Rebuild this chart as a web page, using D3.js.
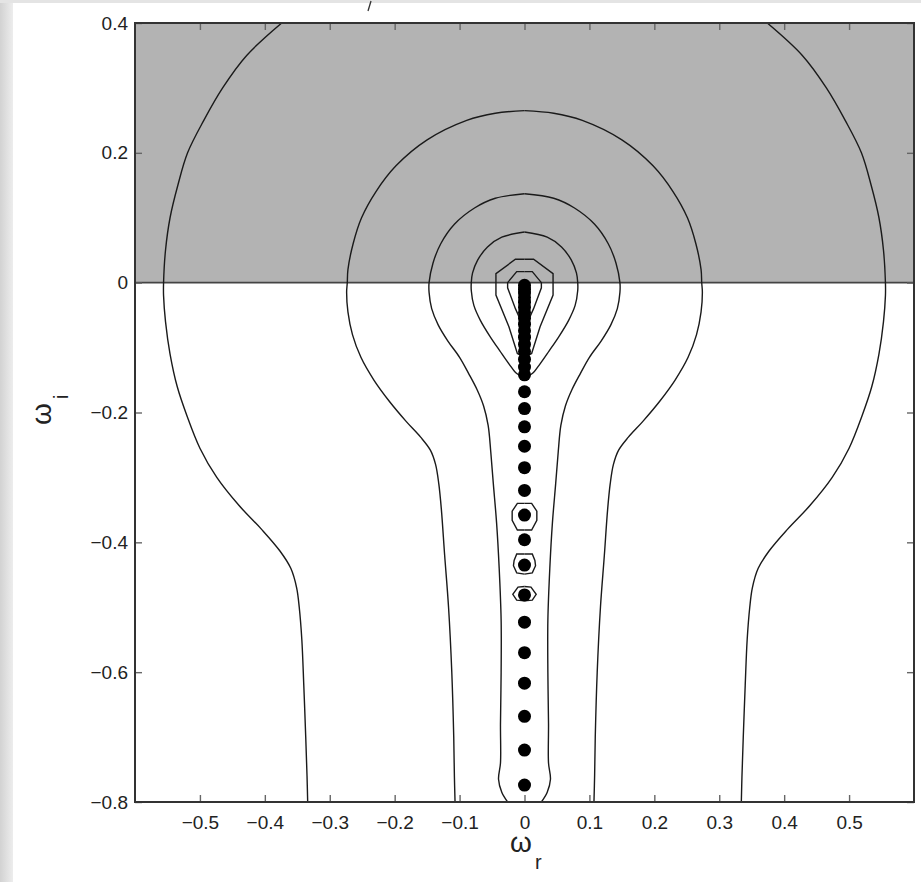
<!DOCTYPE html>
<html>
<head>
<meta charset="utf-8">
<script src="https://cdn.jsdelivr.net/npm/d3@7"></script>
<style>
  body { margin: 0; background: #fff; }
  svg { display: block; }
  text { font-family: "Liberation Sans", Arial, Helvetica, sans-serif; fill: #222; }
</style>
</head>
<body>
<div id="chart"></div>
<script>
// tick values
var xTicks = [-0.5, -0.4, -0.3, -0.2, -0.1, 0, 0.1, 0.2, 0.3, 0.4, 0.5]
var yTicks = [-0.8, -0.6, -0.4, -0.2, 0, 0.2, 0.4]

// contour lines, right half only (x >= 0), the left half is drawn mirrored
var contourA = [[0.374,0.4],[0.428,0.35],[0.465,0.3],[0.494,0.25],[0.519,0.2],[0.534,0.15],[0.546,0.1],
  [0.553,0.05],[0.556,0.0],[0.556,-0.02],[0.553,-0.06],[0.546,-0.11],[0.535,-0.16],[0.52,-0.205],
  [0.5,-0.255],[0.474,-0.3],[0.44,-0.343],[0.405,-0.38],[0.377,-0.413],[0.36,-0.44],[0.351,-0.47],
  [0.347,-0.5],[0.343,-0.55],[0.34,-0.62],[0.337,-0.7],[0.335,-0.76],[0.334,-0.8]]
var contourB = [[0,0.265],[0.045,0.261],[0.089,0.25],[0.15,0.22],[0.198,0.18],[0.229,0.14],[0.251,0.1],
  [0.264,0.06],[0.272,0.02],[0.273,0.0],[0.274,-0.015],[0.272,-0.045],[0.265,-0.08],[0.252,-0.115],
  [0.232,-0.15],[0.208,-0.183],[0.182,-0.214],[0.16,-0.238],[0.145,-0.258],[0.137,-0.28],[0.132,-0.31],
  [0.128,-0.35],[0.123,-0.42],[0.117,-0.5],[0.112,-0.6],[0.109,-0.7],[0.108,-0.76],[0.107,-0.8]]
var contourC = [[0,0.137],[0.045,0.13],[0.077,0.115],[0.108,0.09],[0.129,0.06],[0.141,0.03],[0.147,0.0],
  [0.147,-0.015],[0.143,-0.04],[0.133,-0.065],[0.118,-0.09],[0.1,-0.115],[0.086,-0.14],[0.073,-0.165],
  [0.063,-0.19],[0.056,-0.22],[0.052,-0.26],[0.048,-0.31],[0.043,-0.37],[0.039,-0.44],[0.036,-0.52],
  [0.036,-0.6],[0.037,-0.68],[0.037,-0.74],[0.04,-0.765],[0.035,-0.785],[0.026,-0.8]]
var contourD = [[0,0.078],[0.035,0.07],[0.057,0.055],[0.072,0.035],[0.08,0.015],[0.082,0.0],
  [0.082,-0.012],[0.078,-0.035],[0.068,-0.058],[0.053,-0.083],[0.038,-0.105],[0.024,-0.125],
  [0.012,-0.14],[0,-0.146]]
var contourE = [[0,0.036],[0.014,0.036],[0.044,0.014],[0.044,-0.019],[0.024,-0.068],[0.011,-0.109],[0,-0.115]]
var contourF = [[0,0.017],[0.012,0.017],[0.026,0.0],[0.026,-0.008],[0.014,-0.04],[0.006,-0.058],[0,-0.062]]
var loopG = [[0,-0.340],[0.011,-0.340],[0.019,-0.352],[0.019,-0.366],[0.011,-0.381],[0,-0.381]]
var loopH = [[0,-0.418],[0.012,-0.418],[0.016,-0.428],[0.017,-0.436],[0.012,-0.447],[0,-0.449]]
var loopI = [[0,-0.468],[0.01,-0.469],[0.018,-0.48],[0.012,-0.489],[0,-0.49]]

// eigenvalues on the imaginary axis
var dotsY = [-0.004,-0.01,-0.016,-0.023,-0.03,-0.038,-0.046,-0.055,-0.064,-0.074,-0.084,-0.095,-0.106,
  -0.118,-0.13,-0.142,-0.168,-0.194,-0.222,-0.252,-0.285,-0.32,-0.358,-0.396,-0.435,-0.481,-0.523,
  -0.57,-0.617,-0.668,-0.72,-0.774]

var margin = {top: 23, right: 7, bottom: 80, left: 135},
    width = 921 - margin.left - margin.right,
    height = 882 - margin.top - margin.bottom

var svg = d3.select("#chart").append("svg")
    .attr("width", 921)
    .attr("height", 882)

// scanned page edges
var grad = svg.append("defs").append("linearGradient").attr("id", "edge")
grad.append("stop").attr("offset", "0%").attr("stop-color", "#d2d2d2")
grad.append("stop").attr("offset", "100%").attr("stop-color", "#ededed")
svg.append("rect").attr("x", 0).attr("y", 0).attr("width", 13).attr("height", 882).attr("fill", "url(#edge)")
svg.append("rect").attr("x", 0).attr("y", 0).attr("width", 921).attr("height", 3).attr("fill", "#e4e4e4")
svg.append("path").attr("d", "M371,1L368,11").attr("stroke", "#333").attr("stroke-width", 1.3)

var chart = svg.append("g")
    .attr("transform", "translate(" + margin.left + "," + margin.top + ")")

var x = d3.scaleLinear().domain([-0.6, 0.6]).range([0, width])
var xMirror = x.copy().range([width, 0])
var y = d3.scaleLinear().domain([-0.8, 0.4]).range([height, 0])

chart.append("clipPath").attr("id", "clip")
  .append("rect").attr("width", width).attr("height", height)

// unstable half plane
chart.append("rect")
    .attr("x", 0).attr("y", y(0.4))
    .attr("width", width).attr("height", y(0) - y(0.4))
    .attr("fill", "#b3b3b3")
chart.append("line")
    .attr("x1", 0).attr("x2", width)
    .attr("y1", y(0)).attr("y2", y(0))
    .attr("stroke", "#444").attr("stroke-width", 1.6)

var plot = chart.append("g").attr("clip-path", "url(#clip)")

function drawHalf(data, sx, curve) {
  var line = d3.line()
      .x(function(d){ return sx(d[0]); })
      .y(function(d){ return y(d[1]); })
      .curve(curve)
  plot.append("path")
      .datum(data)
      .attr("d", line)
      .attr("fill", "none")
      .attr("stroke", "#1a1a1a")
      .attr("stroke-width", 1.4)
}

var smooth = [contourA, contourB, contourC, contourD]
var sharp = [contourE, contourF, loopG, loopH, loopI]
smooth.forEach(function(c){
  drawHalf(c, x, d3.curveCatmullRom)
  drawHalf(c, xMirror, d3.curveCatmullRom)
})
sharp.forEach(function(c){
  drawHalf(c, x, d3.curveLinear)
  drawHalf(c, xMirror, d3.curveLinear)
})

plot.selectAll(".dot")
    .data(dotsY)
    .enter()
    .append("circle")
    .attr("class", "dot")
    .attr("cx", x(0))
    .attr("cy", function(d){ return y(d); })
    .attr("r", 6.5)
    .attr("fill", "#000")

// axes, ticks pointing inwards on all four sides
var fmt = function(d){ return d === 0 ? "0" : d3.format(".1f")(d); }

var gx = chart.append("g")
    .attr("transform", "translate(0," + height + ")")
    .call(d3.axisBottom(x).tickValues(xTicks).tickFormat(fmt).tickSizeInner(-7).tickSizeOuter(0).tickPadding(14))
var gy = chart.append("g")
    .call(d3.axisLeft(y).tickValues(yTicks).tickFormat(fmt).tickSizeInner(-7).tickSizeOuter(0).tickPadding(7))
var gt = chart.append("g")
    .call(d3.axisTop(x).tickValues(xTicks).tickFormat("").tickSizeInner(-7).tickSizeOuter(0))
var gr = chart.append("g")
    .attr("transform", "translate(" + width + ",0)")
    .call(d3.axisRight(y).tickValues(yTicks).tickFormat("").tickSizeInner(-7).tickSizeOuter(0))

;[gx, gy, gt, gr].forEach(function(g){
  g.select(".domain").remove()
  g.selectAll(".tick line").attr("stroke", "#666").attr("stroke-width", 1.4)
  g.selectAll("text").attr("font-size", 19).attr("fill", "#222")
      .style("font-family", "'Liberation Sans', Arial, sans-serif")
})

chart.append("rect")
    .attr("width", width).attr("height", height)
    .attr("fill", "none")
    .attr("stroke", "#333")
    .attr("stroke-width", 2)

// axis labels
svg.append("text").attr("x", 510).attr("y", 852).attr("font-size", 28).text("ω")
svg.append("text").attr("x", 535).attr("y", 869).attr("font-size", 20).text("r")

svg.append("text")
    .attr("transform", "translate(51,425) rotate(-90)")
    .attr("font-size", 28).text("ω")
svg.append("text")
    .attr("transform", "translate(68,399) rotate(-90)")
    .attr("font-size", 20).text("i")
</script>
</body>
</html>
